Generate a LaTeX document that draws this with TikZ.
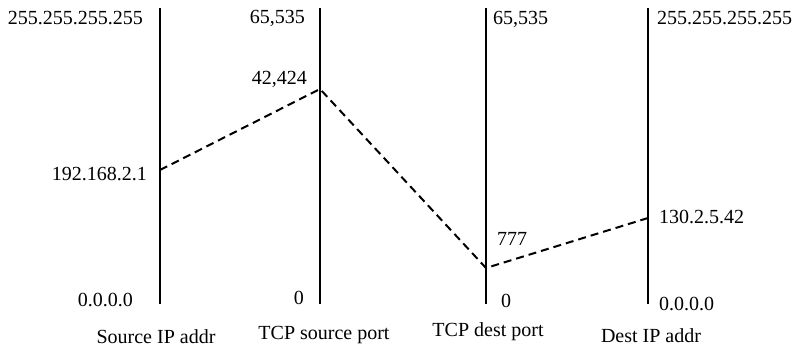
\documentclass[tikz,border=0pt]{standalone}
\usepackage{fontspec}
\setmainfont{Liberation Serif}
\begin{document}
\begin{tikzpicture}[x=1pt,y=-1pt,
  axisline/.style={line width=2.6pt},
  pathline/.style={line width=2pt, dash pattern=on 8pt off 5pt},
  lbl/.style={inner sep=0pt, font=\fontsize{20}{24}\selectfont},
  lblL/.style={lbl, anchor=base east},
  lblR/.style={lbl, anchor=base west},
  caption/.style={lbl, anchor=base}]
\useasboundingbox (0,0) rectangle (795,347);

% axis end points
\coordinate (a1t) at (160,8);  \coordinate (a1b) at (160,304);
\coordinate (a2t) at (320,8);  \coordinate (a2b) at (320,304);
\coordinate (a3t) at (486,8);  \coordinate (a3b) at (486,304);
\coordinate (a4t) at (648,8);  \coordinate (a4b) at (648,304);

\draw[axisline] (a1t) -- (a1b);
\draw[axisline] (a2t) -- (a2b);
\draw[axisline] (a3t) -- (a3b);
\draw[axisline] (a4t) -- (a4b);

% values on each axis
\coordinate (p1) at (160,170);
\coordinate (p2) at (320,89);
\coordinate (p3) at (486,268);
\coordinate (p4) at (648,218);
\draw[pathline] (p1) -- (p2) -- (p3) -- (p4);

% axis ranges and values
\node[lblL] (s1max) at (143,25) {255.255.255.255};
\node[lblL] (s1val) at (147,181) {192.168.2.1};
\node[lblL] (s1min) at (133,306) {0.0.0.0};

\node[lblL] (s2max) at (305,24) {65,535};
\node[lblL] (s2val) at (307,85) {42,424};
\node[lblL] (s2min) at (304,305) {0};

\node[lblR] (d3max) at (493,25) {65,535};
\node[lblR] (d3val) at (497,246) {777};
\node[lblR] (d3min) at (501,308) {0};

\node[lblR] (d4max) at (657,25) {255.255.255.255};
\node[lblR] (d4val) at (659,224) {130.2.5.42};
\node[lblR] (d4min) at (659,310) {0.0.0.0};

% axis captions
\node[caption] (c1) at (156,343) {Source IP addr};
\node[caption] (c2) at (324,339) {TCP source port};
\node[caption] (c3) at (488,337) {TCP dest port};
\node[caption] (c4) at (651,342) {Dest IP addr};
\end{tikzpicture}
\end{document}
